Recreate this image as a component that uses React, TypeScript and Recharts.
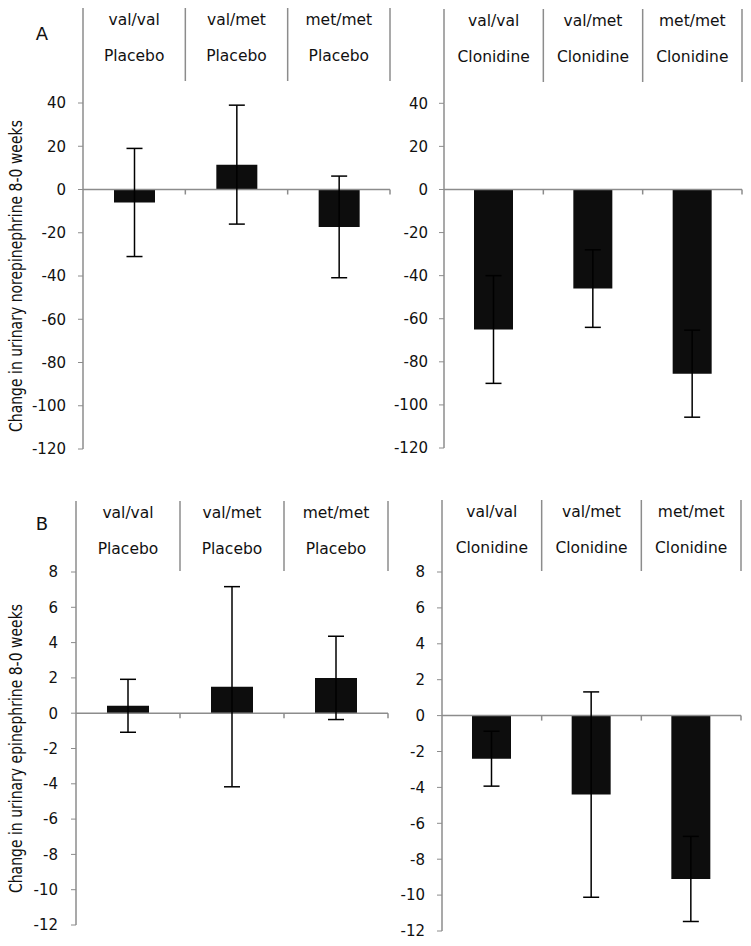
import React from "react";
import { BarChart, Bar, XAxis, YAxis, ErrorBar, ReferenceLine } from "recharts";

const genotypes = ["val/val", "val/met", "met/met"];

// A: urinary norepinephrine
const nePlaceboMean = [-6, 11.5, -17.3];
const nePlaceboErr = [25, 27.5, 23.5];
const neClonidineMean = [-65, -46, -85.5];
const neClonidineErr = [25, 18, 20.2];
const neTicks = [40, 20, 0, -20, -40, -60, -80, -100, -120];

// B: urinary epinephrine
const epiPlaceboMean = [0.42, 1.5, 2.0];
const epiPlaceboErr = [1.5, 5.67, 2.36];
const epiClonidineMean = [-2.4, -4.4, -9.1];
const epiClonidineErr = [1.53, 5.72, 2.37];
const epiTicks = [8, 6, 4, 2, 0, -2, -4, -6, -8, -10, -12];

const FONT = "DejaVu Sans";
const GRAY = "#8c8c8c";
const INK = "#111";

const build = (mean: number[], err: number[]) =>
  genotypes.map((g, i) => ({ name: g, value: mean[i], err: err[i] }));

interface PanelProps {
  left: number;
  top: number;
  width: number;
  height: number;
  axisX: number;
  plotRight: number;
  headerTop: number;
  sepBottom: number;
  plotTop: number;
  plotBottom: number;
  ticks: number[];
  treatment: string;
  data: { name: string; value: number; err: number }[];
  barSize: number;
  tickMargin: number;
  yLabel?: string;
  letter?: string;
  letterY?: number;
}

function Panel(p: PanelProps) {
  const hdr = p.headerTop - p.top;
  const sep = p.sepBottom - p.top;
  const pt = p.plotTop - p.top;
  const half = (p.plotRight - p.axisX) / 6;

  const HeaderTick = (props: any) => {
    const { x, payload, index } = props;
    return (
      <g>
        <text x={x} y={hdr + 11.5} textAnchor="middle" dominantBaseline="central" fontSize={15.5} fill={INK} fontFamily={FONT}>
          {payload.value}
        </text>
        <text x={x} y={hdr + 47.5} textAnchor="middle" dominantBaseline="central" fontSize={15.5} fill={INK} fontFamily={FONT}>
          {p.treatment}
        </text>
        {index === 0 && (
          <line x1={x - half} x2={x - half} y1={hdr} y2={pt} stroke={GRAY} strokeWidth={1.5} />
        )}
        <line x1={x + half} x2={x + half} y1={hdr} y2={sep} stroke={GRAY} strokeWidth={1.5} />
      </g>
    );
  };

  const zeroLine = (props: any) => {
    const { x1, y1, x2 } = props;
    const w = (x2 - x1) / 3;
    return (
      <g>
        <line x1={x1} x2={x2} y1={y1} y2={y1} stroke={GRAY} strokeWidth={1.5} />
        {[1, 2, 3].map((k) => (
          <line key={k} x1={x1 + w * k} x2={x1 + w * k} y1={y1} y2={y1 + 5} stroke={GRAY} strokeWidth={1.5} />
        ))}
      </g>
    );
  };

  const yLabel = (props: any) => {
    const vb = props.viewBox;
    const cy = vb.y + vb.height / 2;
    return (
      <g>
        {p.yLabel && (
          <text
            x={0}
            y={0}
            transform={`translate(16, ${cy}) scale(1.3, 1) rotate(-90)`}
            textAnchor="middle"
            dominantBaseline="central"
            fontSize={14}
            fill={INK}
            fontFamily={FONT}
          >
            {p.yLabel}
          </text>
        )}
        {p.letter && (
          <text x={42} y={(p.letterY ?? 0) - p.top} textAnchor="middle" dominantBaseline="central" fontSize={18} fill={INK} fontFamily={FONT}>
            {p.letter}
          </text>
        )}
      </g>
    );
  };

  const dom: [number, number] = [p.ticks[p.ticks.length - 1], p.ticks[0]];

  return (
    <div style={{ position: "absolute", left: p.left, top: p.top, width: p.width, height: p.height }}>
      <BarChart
        width={p.width}
        height={p.height}
        data={p.data}
        margin={{ top: hdr, right: p.left + p.width - p.plotRight, bottom: p.top + p.height - p.plotBottom, left: 0 }}
        style={{ fontFamily: FONT }}
      >
        <XAxis
          dataKey="name"
          orientation="top"
          height={pt - hdr}
          axisLine={false}
          tickLine={false}
          interval={0}
          tick={HeaderTick}
        />
        <YAxis
          type="number"
          domain={dom}
          ticks={p.ticks}
          interval={0}
          width={p.axisX - p.left}
          axisLine={{ stroke: GRAY, strokeWidth: 1.5 }}
          tickLine={{ stroke: GRAY, strokeWidth: 1 }}
          tickSize={5}
          tickMargin={p.tickMargin}
          tick={{ fill: INK, fontSize: 15, fontFamily: FONT }}
          label={yLabel}
        />
        <ReferenceLine y={0} shape={zeroLine} />
        <Bar dataKey="value" fill="#0d0d0d" barSize={p.barSize} isAnimationActive={false}>
          <ErrorBar dataKey="err" width={8} stroke="#000" strokeWidth={1.5} direction="y" isAnimationActive={false} />
        </Bar>
      </BarChart>
    </div>
  );
}

export default function App() {
  return (
    <div style={{ position: "absolute", left: 0, top: 0, width: 751, height: 946, background: "#fff" }}>
      <Panel
        left={0} top={0} width={393} height={470}
        axisX={83} plotRight={390} headerTop={8} sepBottom={81} plotTop={103} plotBottom={449}
        ticks={neTicks} treatment="Placebo" data={build(nePlaceboMean, nePlaceboErr)}
        barSize={41} tickMargin={12}
        yLabel="Change in urinary norepinephrine 8-0 weeks" letter="A" letterY={33}
      />
      <Panel
        left={393} top={0} width={358} height={470}
        axisX={444} plotRight={742} headerTop={9} sepBottom={82} plotTop={103.3} plotBottom={448}
        ticks={neTicks} treatment="Clonidine" data={build(neClonidineMean, neClonidineErr)}
        barSize={39} tickMargin={11}
      />
      <Panel
        left={0} top={475} width={393} height={471}
        axisX={76} plotRight={388} headerTop={501} sepBottom={571} plotTop={572} plotBottom={925}
        ticks={epiTicks} treatment="Placebo" data={build(epiPlaceboMean, epiPlaceboErr)}
        barSize={42} tickMargin={13}
        yLabel="Change in urinary epinephrine 8-0 weeks" letter="B" letterY={523}
      />
      <Panel
        left={393} top={475} width={358} height={471}
        axisX={442} plotRight={741} headerTop={500} sepBottom={571} plotTop={572} plotBottom={931}
        ticks={epiTicks} treatment="Clonidine" data={build(epiClonidineMean, epiClonidineErr)}
        barSize={39} tickMargin={12}
      />
    </div>
  );
}
